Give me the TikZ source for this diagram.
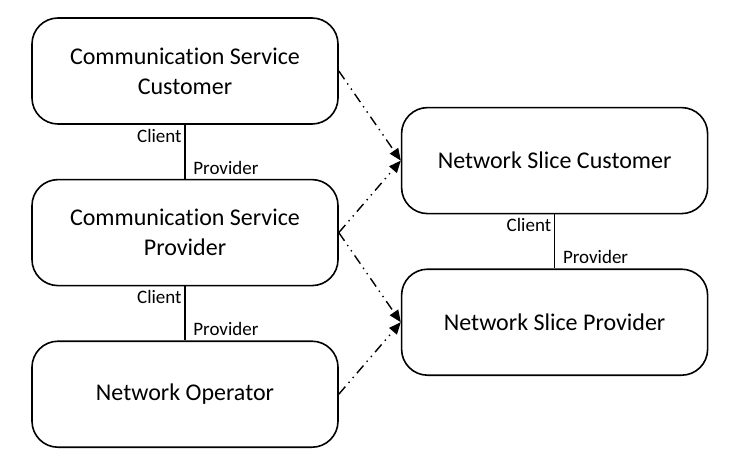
\documentclass[tikz,border=0pt]{standalone}
\usepackage{fontspec}
\setmainfont[Ligatures=NoCommon]{Carlito}
\usetikzlibrary{arrows.meta,positioning}

\begin{document}
\begin{tikzpicture}[
    node distance=27pt,
    role/.style={rectangle,draw,line width=0.8pt,minimum width=153pt,minimum height=53pt,align=center,rounded corners=13pt,font=\fontsize{12}{15}\selectfont},
    tag/.style={font=\fontsize{9.5}{11}\selectfont,inner sep=1pt},
    link/.style={line width=0.7pt},
    arrow/.style={line width=0.7pt,-{Triangle[length=6pt,width=5pt]},dash pattern=on 5pt off 2.5pt on 0.7pt off 2.5pt on 0.7pt off 2.5pt}
]
    \useasboundingbox (-92.5pt,35.5pt) rectangle (273pt,-197.5pt);

    \node[role] (csc) at (0,0) {Communication Service\\Customer};
    \node[role,below=of csc] (csp) {Communication Service\\Provider};
    \node[role,below=of csp] (nop) {Network Operator};
    \node[role,right=31pt of csp,yshift=36pt] (nsc) {Network Slice Customer};
    \node[role,below=of nsc] (nsp) {Network Slice Provider};

    \draw[link] (csc.south) -- (csp.north);
    \draw[link] (csp.south) -- (nop.north);
    \draw[link] (nsc.south) -- (nsp.north);

    \node[tag,anchor=north east] (c1) at ([xshift=-0.5pt,yshift=-1pt]csc.south) {Client};
    \node[tag,anchor=south west] (p1) at ([xshift=3pt,yshift=1pt]csp.north) {Provider};
    \node[tag,anchor=north east] (c2) at ([xshift=-0.5pt,yshift=-1pt]csp.south) {Client};
    \node[tag,anchor=south west] (p2) at ([xshift=3pt,yshift=1pt]nop.north) {Provider};
    \node[tag,anchor=north east] (c3) at ([xshift=-0.5pt,yshift=-1pt]nsc.south) {Client};
    \node[tag,anchor=south west] (p3) at ([xshift=3pt,yshift=1pt]nsp.north) {Provider};

    \draw[arrow] (csc.east) -- (nsc.west);
    \draw[arrow] (csp.east) -- (nsc.west);
    \draw[arrow] (csp.east) -- (nsp.west);
    \draw[arrow] (nop.east) -- (nsp.west);
\end{tikzpicture}
\end{document}
